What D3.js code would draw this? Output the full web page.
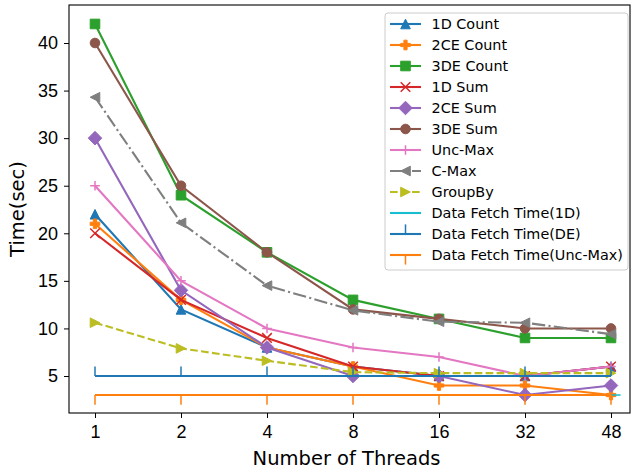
<!DOCTYPE html>
<html>
<head>
<meta charset="utf-8">
<script src="https://cdn.jsdelivr.net/npm/d3@7"></script>
<style>
  body { margin: 0; background: white; }
  svg { font-family: 'DejaVu Sans', sans-serif; }
</style>
</head>
<body>
<div id="chart"></div>
<script>
// data
const threads = ['1', '2', '4', '8', '16', '32', '48']
const count1D = [22, 12, 8, 6, 5, 5, 6]
const count2CE = [21, 13, 8, 6, 4, 4, 3]
const count3DE = [42, 24, 18, 13, 11, 9, 9]
const sum1D = [20, 13, 9, 6, 5, 5, 6]
const sum2CE = [30, 14, 8, 5, 5, 3, 4]
const sum3DE = [40, 25, 18, 12, 11, 10, 10]
const uncMax = [25, 15, 10, 8, 7, 5, 6]
const cMax = [34.3, 21.1, 14.5, 11.9, 10.7, 10.6, 9.4]
const groupBy = [10.6, 7.9, 6.6, 5.4, 5.3, 5.3, 5.3]
const fetch1D = [3, 3, 3, 3, 3, 3, 3]
const fetchDE = [5, 5, 5, 5, 5, 5, 5]
const fetchUncMax = [3, 3, 3, 3, 3, 3, 3]
const yTicks = [5, 10, 15, 20, 25, 30, 35, 40]

const series = [
  { name: '1D Count', values: count1D, color: '#1f77b4', marker: 'triUp' },
  { name: '2CE Count', values: count2CE, color: '#ff7f0e', marker: 'plusFilled' },
  { name: '3DE Count', values: count3DE, color: '#2ca02c', marker: 'square' },
  { name: '1D Sum', values: sum1D, color: '#d62728', marker: 'x' },
  { name: '2CE Sum', values: sum2CE, color: '#9467bd', marker: 'diamond' },
  { name: '3DE Sum', values: sum3DE, color: '#8c564b', marker: 'circle' },
  { name: 'Unc-Max', values: uncMax, color: '#e377c2', marker: 'plus' },
  { name: 'C-Max', values: cMax, color: '#7f7f7f', marker: 'triLeft', dash: '13.3,3.3,2.1,3.3' },
  { name: 'GroupBy', values: groupBy, color: '#bcbd22', marker: 'triRight', dash: '7.7,3.3' },
  { name: 'Data Fetch Time(1D)', values: fetch1D, color: '#17becf', marker: 'tickRight' },
  { name: 'Data Fetch Time(DE)', values: fetchDE, color: '#1f77b4', marker: 'tickUp' },
  { name: 'Data Fetch Time(Unc-Max)', values: fetchUncMax, color: '#ff7f0e', marker: 'tickDown' }
]

const width = 631
const height = 472
const plotLeft = 69, plotRight = 630, plotTop = 5, plotBottom = 413

const xScale = d3.scaleLinear().domain([0, 6]).range([95, 611])
const yScale = d3.scaleLinear().domain([5, 40]).range([376, 43])

const ms = 9.6
const h = ms / 2
const markerPaths = {
  triUp: `M0,${-h}L${-h},${h}L${h},${h}Z`,
  triLeft: `M${-h},0L${h},${-h}L${h},${h}Z`,
  triRight: `M${h},0L${-h},${-h}L${-h},${h}Z`,
  square: `M${-h},${-h}H${h}V${h}H${-h}Z`,
  diamond: `M0,${-h * 1.41}L${h * 1.41},0L0,${h * 1.41}L${-h * 1.41},0Z`,
  circle: `M${h},0A${h},${h} 0 1,1 ${-h},0A${h},${h} 0 1,1 ${h},0Z`,
  plusFilled: (() => { const a = h / 3; return `M${-a},${-h}H${a}V${-a}H${h}V${a}H${a}V${h}H${-a}V${a}H${-h}V${-a}H${-a}Z` })(),
  x: `M${-h},${-h}L${h},${h}M${-h},${h}L${h},${-h}`,
  plus: `M${-h},0H${h}M0,${-h}V${h}`,
  tickRight: `M0,0H${ms}`,
  tickUp: `M0,0V${-ms}`,
  tickDown: `M0,0V${ms}`
}
const lineOnly = ['x', 'plus', 'tickRight', 'tickUp', 'tickDown']

const svg = d3.select('#chart')
  .append('svg')
  .attr('width', width)
  .attr('height', height)

svg.append('defs').append('clipPath')
  .attr('id', 'clip')
  .append('rect')
  .attr('x', plotLeft).attr('y', plotTop)
  .attr('width', plotRight - plotLeft).attr('height', plotBottom - plotTop)

const plot = svg.append('g').attr('clip-path', 'url(#clip)')

const line = d3.line()
  .x((d, i) => xScale(i))
  .y(d => yScale(d))

function drawMarker(g, s, x, y) {
  const filled = !lineOnly.includes(s.marker)
  g.append('path')
    .attr('d', markerPaths[s.marker])
    .attr('transform', `translate(${x},${y})`)
    .attr('fill', filled ? s.color : 'none')
    .attr('stroke', s.color)
    .attr('stroke-width', filled ? 1 : 1.5)
}

series.forEach(s => {
  const g = plot.append('g')
  g.append('path')
    .datum(s.values)
    .attr('d', line)
    .attr('fill', 'none')
    .attr('stroke', s.color)
    .attr('stroke-width', 2.1)
    .attr('stroke-dasharray', s.dash || null)
  s.values.forEach((v, i) => drawMarker(g, s, xScale(i), yScale(v)))
})

// Axes
const xAxis = d3.axisBottom(xScale)
  .tickValues(d3.range(threads.length))
  .tickFormat(i => threads[i])
  .tickSizeOuter(0)
  .tickSize(5)
  .tickPadding(7)
const gx = svg.append('g')
  .attr('transform', `translate(0,${plotBottom})`)
  .call(xAxis)
gx.select('.domain').remove()
gx.selectAll('text').attr('font-size', '18px').attr('fill', '#000')

const yAxis = d3.axisLeft(yScale)
  .tickValues(yTicks)
  .tickSizeOuter(0)
  .tickSize(5)
  .tickPadding(6)
const gy = svg.append('g')
  .attr('transform', `translate(${plotLeft},0)`)
  .call(yAxis)
gy.select('.domain').remove()
gy.selectAll('text').attr('font-size', '18px').attr('fill', '#000')

svg.append('rect')
  .attr('x', plotLeft).attr('y', plotTop)
  .attr('width', plotRight - plotLeft).attr('height', plotBottom - plotTop)
  .attr('fill', 'none')
  .attr('stroke', '#000')
  .attr('stroke-width', 1.1)

svg.append('text')
  .attr('x', (plotLeft + plotRight) / 2 - 3)
  .attr('y', 465)
  .attr('text-anchor', 'middle')
  .attr('font-size', '19.5px')
  .text('Number of Threads')

svg.append('text')
  .attr('transform', `translate(24,${(plotTop + plotBottom) / 2}) rotate(-90)`)
  .attr('text-anchor', 'middle')
  .attr('font-size', '19.5px')
  .text('Time(sec)')

// Legend
const legend = svg.append('g').attr('transform', 'translate(385,13)')
legend.append('rect')
  .attr('width', 243)
  .attr('height', 257)
  .attr('rx', 3)
  .attr('fill', 'white')
  .attr('fill-opacity', 0.8)
  .attr('stroke', '#cccccc')

series.forEach((s, i) => {
  const item = legend.append('g').attr('transform', `translate(0,${11 + i * 21})`)
  item.append('line')
    .attr('x1', 5).attr('x2', 36)
    .attr('stroke', s.color)
    .attr('stroke-width', 2.1)
    .attr('stroke-dasharray', s.dash || null)
  drawMarker(item, s, 20.5, 0)
  item.append('text')
    .attr('x', 46.5)
    .attr('y', 5.2)
    .attr('font-size', '14.4px')
    .text(s.name)
})
</script>
</body>
</html>
